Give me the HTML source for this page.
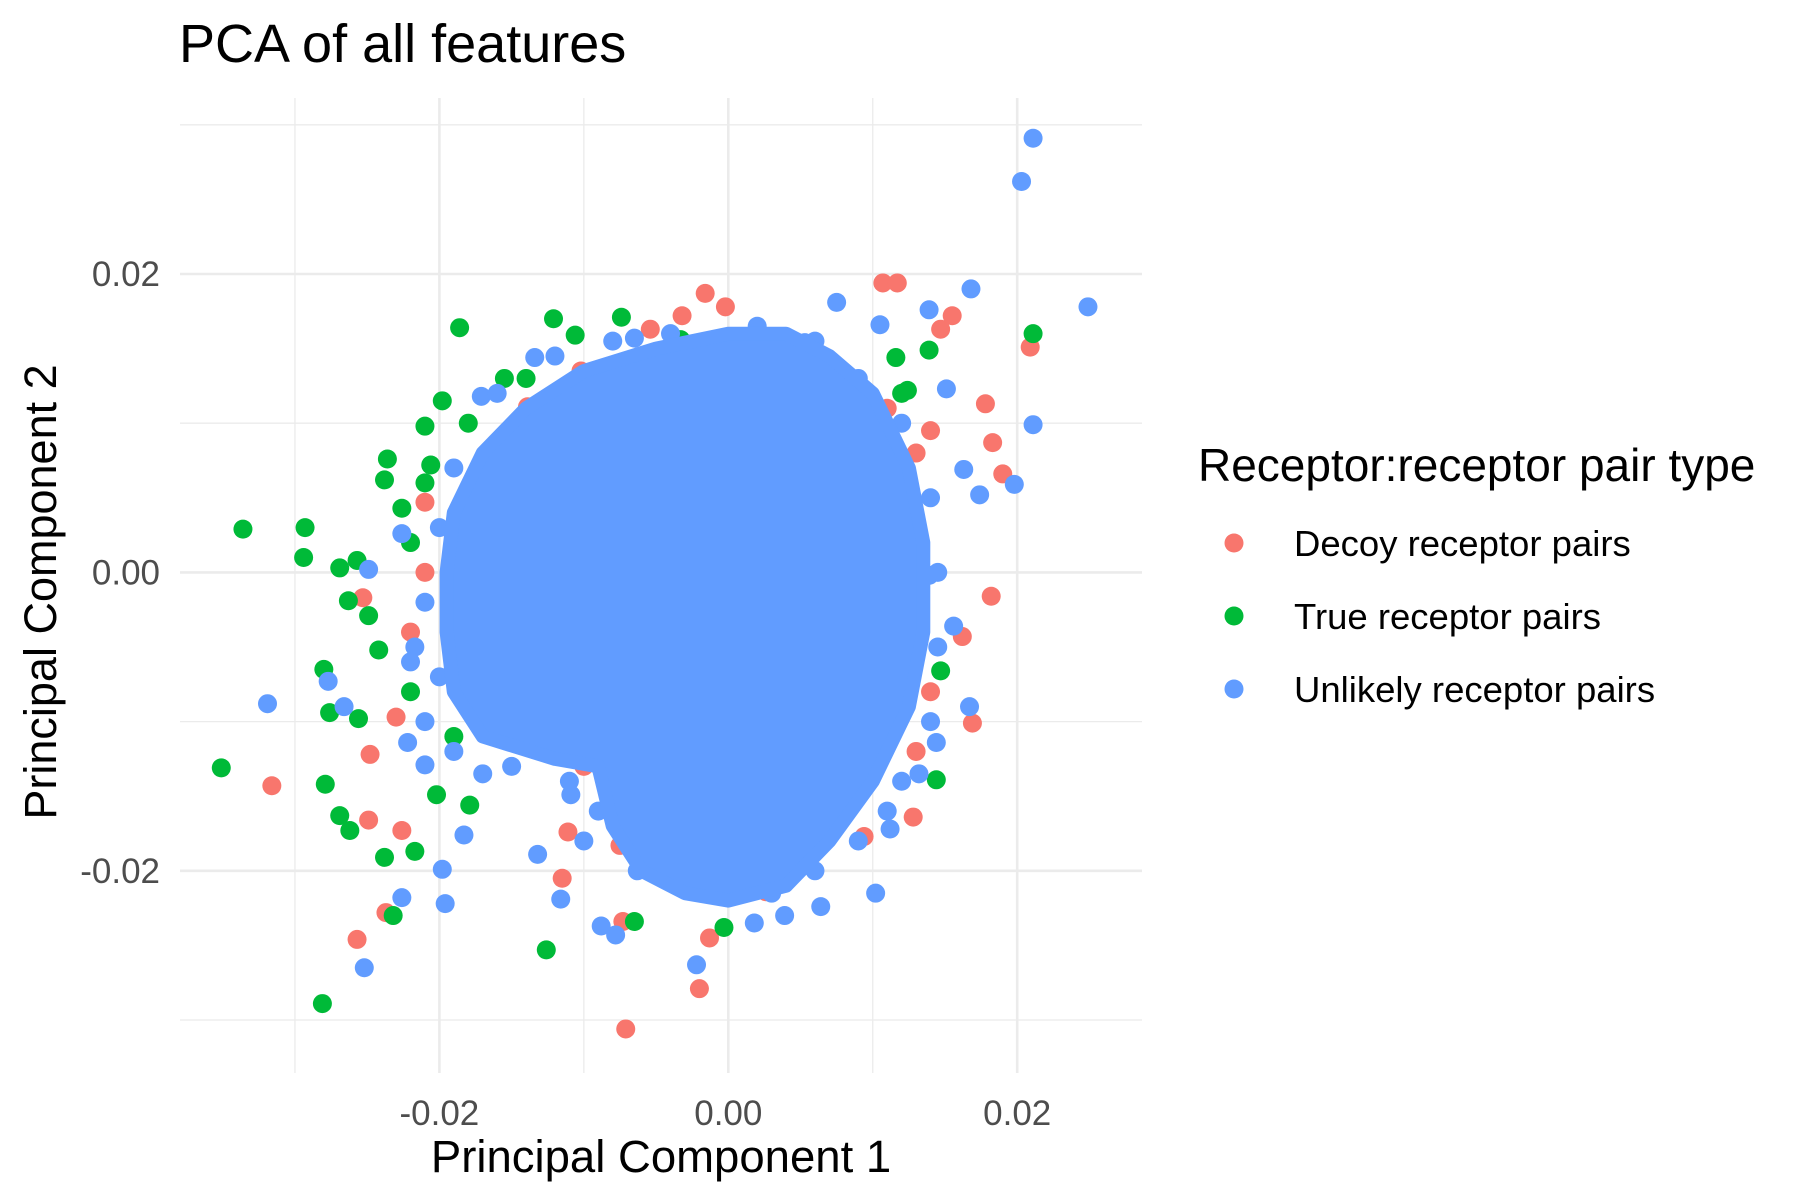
<!DOCTYPE html>
<html><head><meta charset="utf-8"><style>
html,body{margin:0;padding:0;background:#fff;}
svg{display:block;font-family:"Liberation Sans",Arial,sans-serif;}
</style></head><body>
<svg id="chart" width="1800" height="1200" viewBox="0 0 1800 1200">
<g id="grid"></g>
<g id="marks"></g>
<g id="axes"></g>
<text x="179" y="62" font-size="54" fill="#000">PCA of all features</text>
<text x="661" y="1172" font-size="45.5" fill="#000" text-anchor="middle">Principal Component 1</text>
<text x="0" y="0" font-size="45" fill="#000" text-anchor="middle" transform="translate(56,592) rotate(-90)">Principal Component 2</text>
<g id="legend">
<text x="1212" y="481" font-size="46" fill="#000" transform="translate(-14,0)">Receptor:receptor pair type</text>
</g>
</svg>
<script>
const xTicks=[-0.02,0,0.02];
const xTickLabels=["-0.02","0.00","0.02"];
const yTicks=[0.02,0,-0.02];
const yTickLabels=["0.02","0.00","-0.02"];
const xMinor=[-0.03,-0.01,0.01];
const yMinor=[0.03,0.01,-0.01,-0.03];
const seriesNames=["Decoy receptor pairs","True receptor pairs","Unlikely receptor pairs"];
const seriesColors=["#F8766D","#00BA38","#619CFF"];
const decoyX=[-0.0016,-0.0002,-0.0032,-0.0054,0.0107,0.0117,0.0155,0.0147,0.0209,0.0178,0.0183,0.0190,0.0140,0.0182,0.0162,0.0169,0.0128,0.0094,0.0026,-0.0013,-0.0020,-0.0071,-0.0073,-0.0075,-0.0111,-0.0115,-0.0237,-0.0257,-0.0249,-0.0226,-0.0316,-0.0248,-0.0230,-0.0253,-0.0210,-0.0139,-0.0102,-0.022,-0.021,-0.018,-0.010,-0.008,0.011,0.013,0.014,0.013,-0.012];
const decoyY=[0.0187,0.0178,0.0172,0.0163,0.0194,0.0194,0.0172,0.0163,0.0151,0.0113,0.0087,0.0066,0.0095,-0.0016,-0.0043,-0.0101,-0.0164,-0.0177,-0.0214,-0.0245,-0.0279,-0.0306,-0.0234,-0.0183,-0.0174,-0.0205,-0.0228,-0.0246,-0.0166,-0.0173,-0.0143,-0.0122,-0.0097,-0.0017,0.0047,0.0111,0.0135,-0.004,0.0,-0.009,-0.013,-0.016,0.011,0.008,-0.008,-0.012,0.012];
const trueX=[-0.0186,-0.0121,-0.0106,-0.0074,-0.0033,-0.0155,-0.0198,-0.0210,-0.0236,-0.0238,-0.0206,-0.0226,-0.0336,-0.0293,-0.0294,-0.0269,-0.0257,-0.0263,-0.0249,-0.0242,-0.0280,-0.0276,-0.0256,-0.0351,-0.0279,-0.0269,-0.0262,-0.0238,-0.0232,-0.0217,-0.0281,-0.0126,-0.0003,-0.0065,0.0116,0.0139,0.0124,0.0147,0.0144,0.0211,-0.0202,-0.0179,-0.022,-0.021,-0.018,-0.014,-0.022,-0.019,0.012,-0.010];
const trueY=[0.0164,0.0170,0.0159,0.0171,0.0156,0.0130,0.0115,0.0098,0.0076,0.0062,0.0072,0.0043,0.0029,0.0030,0.0010,0.0003,0.0008,-0.0019,-0.0029,-0.0052,-0.0065,-0.0094,-0.0098,-0.0131,-0.0142,-0.0163,-0.0173,-0.0191,-0.0230,-0.0187,-0.0289,-0.0253,-0.0238,-0.0234,0.0144,0.0149,0.0122,-0.0066,-0.0139,0.0160,-0.0149,-0.0156,0.002,0.006,0.010,0.013,-0.008,-0.011,0.012,-0.012];
const unlikelyX=[0.0211,0.0203,0.0249,0.0168,0.0139,0.0075,0.0105,0.0211,0.0198,0.0174,0.0151,0.0163,0.0139,0.0156,0.0167,0.0132,0.0102,0.0064,0.0039,0.0018,-0.0022,-0.0078,-0.0088,-0.0063,-0.0116,-0.0132,-0.0196,-0.0198,-0.0226,-0.0252,-0.0319,-0.0277,-0.0266,-0.0249,-0.0226,-0.0183,-0.0210,-0.0222,0.0053,-0.0065,-0.0134,-0.0171,0.0144,0.0112,-0.0217,-0.0155,-0.0109,-0.021,-0.019,-0.017,-0.015,-0.013,-0.020,-0.022,-0.021,-0.020,-0.019,-0.016,-0.012,-0.008,-0.004,0.002,0.006,0.009,0.012,0.014,0.0145,0.0145,0.014,0.012,0.009,0.006,0.003,-0.003,-0.006,-0.009,-0.011,-0.010,0.011];
const unlikelyY=[0.0291,0.0262,0.0178,0.0190,0.0176,0.0181,0.0166,0.0099,0.0059,0.0052,0.0123,0.0069,-0.0002,-0.0036,-0.0090,-0.0135,-0.0215,-0.0224,-0.0230,-0.0235,-0.0263,-0.0243,-0.0237,-0.0200,-0.0219,-0.0189,-0.0222,-0.0199,-0.0218,-0.0265,-0.0088,-0.0073,-0.0090,0.0002,0.0026,-0.0176,-0.0129,-0.0114,0.0154,0.0157,0.0144,0.0118,-0.0114,-0.0172,-0.0050,-0.0110,-0.0149,-0.010,-0.012,-0.0135,-0.013,-0.012,-0.007,-0.006,-0.002,0.003,0.007,0.012,0.0145,0.0155,0.016,0.0165,0.0155,0.013,0.010,0.005,0.0,-0.005,-0.010,-0.014,-0.018,-0.020,-0.0215,-0.021,-0.019,-0.016,-0.014,-0.018,-0.016];
// dense core region outline (where points overlap completely)
const coreX=[0.000,-0.005,-0.010,-0.014,-0.017,-0.019,-0.0195,-0.0195,-0.019,-0.017,-0.012,-0.009,-0.008,-0.006,-0.003,0.000,0.004,0.007,0.010,0.0125,0.0135,0.0135,0.0125,0.010,0.007,0.004];
const coreY=[0.0160,0.0150,0.0135,0.0110,0.0080,0.0040,0.000,-0.004,-0.008,-0.011,-0.0125,-0.013,-0.017,-0.020,-0.0215,-0.022,-0.021,-0.018,-0.014,-0.009,-0.004,0.002,0.007,0.012,0.0145,0.016];

const NS='http://www.w3.org/2000/svg';
const X0=728.3, XS=14445, Y0=572.4, YS=14920;
function sx(v){return X0+v*XS;}
function sy(v){return Y0-v*YS;}
const L=180,R=1142,T=98,B=1073;
function mk(tag,attrs,parent){const e=document.createElementNS(NS,tag);for(const k in attrs)e.setAttribute(k,attrs[k]);parent.appendChild(e);return e;}
const grid=document.getElementById('grid');
xMinor.forEach(v=>{const l=mk('line',{x1:sx(v),x2:sx(v),y1:T,y2:B,stroke:'#ebebeb','stroke-width':1.3},grid);

});
yMinor.forEach(v=>{const l=mk('line',{x1:L,x2:R,y1:sy(v),y2:sy(v),stroke:'#ebebeb','stroke-width':1.3},grid);

});
xTicks.forEach(v=>{const l=mk('line',{x1:sx(v),x2:sx(v),y1:T,y2:B,stroke:'#ebebeb','stroke-width':2.6},grid);

});
yTicks.forEach(v=>{const l=mk('line',{x1:L,x2:R,y1:sy(v),y2:sy(v),stroke:'#ebebeb','stroke-width':2.6},grid);

});
const axes=document.getElementById('axes');
xTicks.forEach((v,i)=>{const t=mk('text',{x:sx(v),y:1125,'font-size':35,fill:'#4d4d4d','text-anchor':'middle'},axes);t.textContent=xTickLabels[i];

});
yTicks.forEach((v,i)=>{const t=mk('text',{x:160,y:sy(v)+12,'font-size':35,fill:'#4d4d4d','text-anchor':'end'},axes);t.textContent=yTickLabels[i];

});
const marks=document.getElementById('marks');
const r=9.5;
function drawSeries(xs,ys,color,name){const g=mk('g',{},marks);


xs.forEach((v,i)=>{const c=mk('circle',{cx:sx(v),cy:sy(ys[i]),r:r,fill:color},g);

});}
drawSeries(decoyX,decoyY,seriesColors[0],'decoy-series');
drawSeries(trueX,trueY,seriesColors[1],'true-series');
drawSeries(unlikelyX,unlikelyY,seriesColors[2],'unlikely-series');
const d='M'+coreX.map((v,i)=>sx(v).toFixed(1)+','+sy(coreY[i]).toFixed(1)).join('L')+'Z';
const core=mk('path',{d:d,fill:seriesColors[2],stroke:seriesColors[2],'stroke-width':14,'stroke-linejoin':'round'},marks);


const leg=document.getElementById('legend');
const legY=[543,616,689];
seriesNames.forEach((n,i)=>{const g=mk('g',{},leg);


mk('circle',{cx:1234,cy:legY[i],r:r,fill:seriesColors[i]},g);
const t=mk('text',{x:1294,y:legY[i]+13,'font-size':36.5,fill:'#000'},g);t.textContent=n;});
</script>
</body></html>
